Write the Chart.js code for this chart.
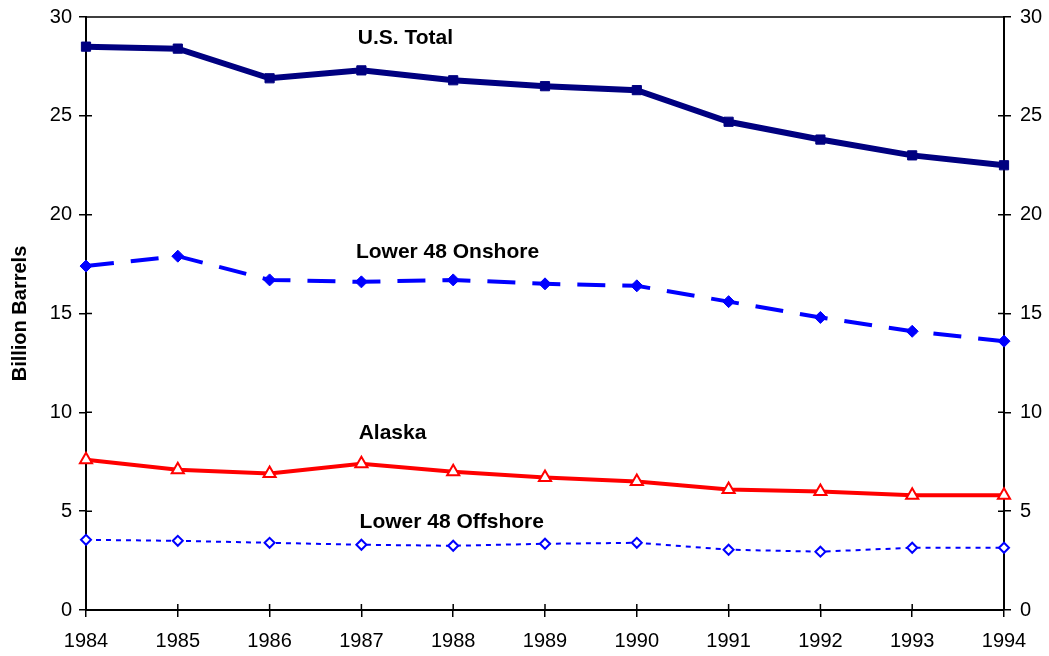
<!DOCTYPE html>
<html>
<head>
<meta charset="utf-8">
<script src="https://cdn.jsdelivr.net/npm/chart.js@4"></script>
<style>
  body { margin: 0; background: #fff; }
  #wrap { width: 1049px; height: 656px; }
</style>
</head>
<body>
<div id="wrap"><canvas id="cvs"></canvas></div>
<script>
const years = ['1984','1985','1986','1987','1988','1989','1990','1991','1992','1993','1994'];
const usTotal = [28.5, 28.4, 26.9, 27.3, 26.8, 26.5, 26.3, 24.7, 23.8, 23.0, 22.5];
const onshore = [17.4, 17.9, 16.7, 16.6, 16.7, 16.5, 16.4, 15.6, 14.8, 14.1, 13.6];
const alaska = [7.6, 7.1, 6.9, 7.4, 7.0, 6.7, 6.5, 6.1, 6.0, 5.8, 5.8];
const offshore = [3.55, 3.5, 3.4, 3.3, 3.25, 3.35, 3.4, 3.05, 2.95, 3.15, 3.15];
const yTicks = [0, 5, 10, 15, 20, 25, 30];

// series labels written inside the plot: [text, x index, y value]
const seriesLabels = [
    ['U.S. Total', 2.96, 28.95],
    ['Lower 48 Onshore', 2.94, 18.1],
    ['Alaska', 2.97, 8.92],
    ['Lower 48 Offshore', 2.98, 4.46]
];

const frame = {
    id: 'frame',
    afterDraw(chart) {
        const ctx = chart.ctx;
        const a = chart.chartArea;
        const x = chart.scales.x, y = chart.scales.y;
        ctx.save();
        ctx.strokeStyle = '#000';
        ctx.lineWidth = 1.5;
        ctx.beginPath();
        ctx.moveTo(a.left, a.top);
        ctx.lineTo(a.right, a.top);
        // inner halves of tick marks
        yTicks.forEach(v => {
            const py = y.getPixelForValue(v);
            ctx.moveTo(a.left, py); ctx.lineTo(a.left + 6, py);
            ctx.moveTo(a.right, py); ctx.lineTo(a.right - 6, py);
        });
        years.forEach((yr, i) => {
            const px = x.getPixelForValue(i);
            ctx.moveTo(px, a.bottom); ctx.lineTo(px, a.bottom - 6);
        });
        ctx.stroke();
        ctx.fillStyle = '#000';
        ctx.font = 'bold 21px "Liberation Sans", Arial, sans-serif';
        ctx.textAlign = 'left';
        ctx.textBaseline = 'middle';
        seriesLabels.forEach(l => {
            ctx.fillText(l[0], x.getPixelForValue(l[1]), y.getPixelForValue(l[2]));
        });
        ctx.restore();
    }
};

const tickFont = { family: '"Liberation Sans", Arial, sans-serif', size: 20 };

new Chart(document.getElementById('cvs'), {
    type: 'line',
    data: {
        labels: years,
        datasets: [
            {
                label: 'U.S. Total', data: usTotal,
                borderColor: '#000080', backgroundColor: '#000080',
                borderWidth: 6, pointStyle: 'rect', pointRadius: 6.5,
                pointBorderWidth: 1
            },
            {
                label: 'Lower 48 Onshore', data: onshore,
                borderColor: '#0000ff', backgroundColor: '#0000ff',
                borderWidth: 4, borderDash: [28, 17], pointStyle: 'rectRot',
                pointRadius: 6, pointBorderWidth: 1
            },
            {
                label: 'Alaska', data: alaska,
                borderColor: '#ff0000', backgroundColor: '#ffffff',
                borderWidth: 4, pointStyle: 'triangle', pointRadius: 7,
                pointBorderWidth: 2
            },
            {
                label: 'Lower 48 Offshore', data: offshore,
                borderColor: '#0000ff', backgroundColor: '#ffffff',
                borderWidth: 2, borderDash: [5, 5], pointStyle: 'rectRot',
                pointRadius: 5, pointBorderWidth: 2
            }
        ]
    },
    options: {
        responsive: true,
        maintainAspectRatio: false,
        animation: false,
        layout: { padding: { top: 17, left: 0, right: 0, bottom: 0 } },
        plugins: {
            legend: { display: false },
            tooltip: { enabled: false }
        },
        elements: { line: { tension: 0 } },
        scales: {
            x: {
                offset: false,
                border: { color: '#000', width: 2 },
                grid: { drawOnChartArea: false, color: '#000', tickLength: 7, lineWidth: 1.5 },
                ticks: { color: '#000', font: tickFont, maxRotation: 0, padding: 12 },
                afterFit(s) { s.height = 46; }
            },
            y: {
                position: 'left', min: 0, max: 30,
                border: { color: '#000', width: 2 },
                grid: { drawOnChartArea: false, color: '#000', tickLength: 7, lineWidth: 1.5 },
                ticks: { stepSize: 5, color: '#000', font: tickFont, padding: 7 },
                title: {
                    display: true, text: 'Billion Barrels', color: '#000',
                    font: { family: '"Liberation Sans", Arial, sans-serif', size: 20, weight: 'bold' },
                    padding: { top: 8, bottom: 0 }
                },
                afterFit(s) { s.width = 86; s.paddingTop = 0; s.paddingBottom = 0; }
            },
            y2: {
                position: 'right', min: 0, max: 30,
                border: { color: '#000', width: 2 },
                grid: { drawOnChartArea: false, color: '#000', tickLength: 7, lineWidth: 1.5 },
                ticks: { stepSize: 5, color: '#000', font: tickFont, padding: 9 },
                afterFit(s) { s.width = 45; s.paddingTop = 0; s.paddingBottom = 0; }
            }
        }
    },
    plugins: [frame]
});
</script>
</body>
</html>
